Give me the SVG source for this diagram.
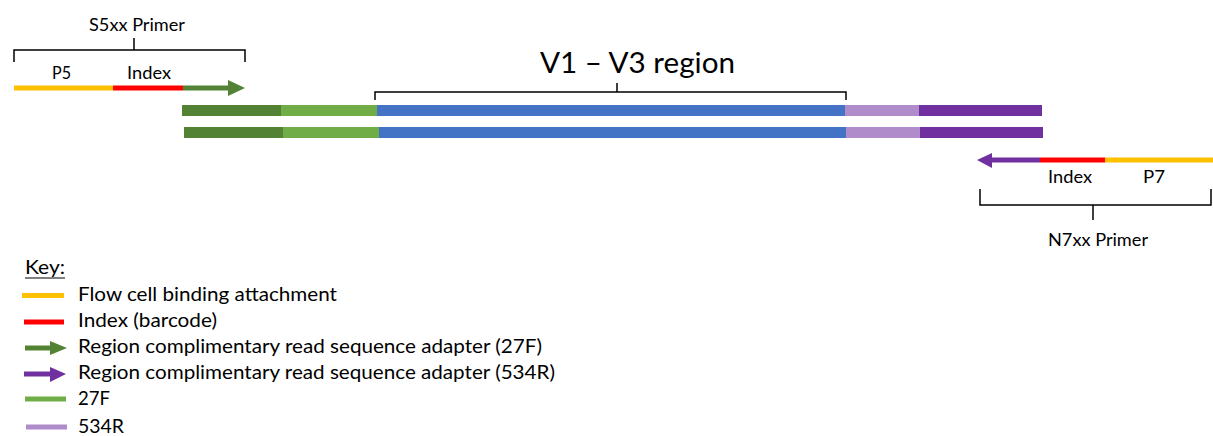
<svg xmlns="http://www.w3.org/2000/svg" width="1213" height="436" viewBox="0 0 1213 436">
<style>
text{font-family:Lato,"Open Sans","Liberation Sans",sans-serif;fill:#000}
.s{font-size:17px}
.l{font-size:19px}
.br{fill:none;stroke:#000;stroke-width:1.5}
.ln{stroke-width:5;fill:none}
.yel{stroke:#FFC000}.red{stroke:#FF0000}.dg{stroke:#548235}.pu{stroke:#7030A0}.lg{stroke:#70AD47}.lv{stroke:#B08CCB}
</style>
<rect width="1213" height="436" fill="#fff"/>
<g id="s5xx-primer">
<path class="br" d="M14,62V50H245V62M134,50V38"/>
<text class="s" x="89" y="31" textLength="96" lengthAdjust="spacingAndGlyphs">S5xx Primer</text>
<text class="s" x="52" y="79" textLength="19" lengthAdjust="spacingAndGlyphs">P5</text>
<text class="s" x="127" y="79" textLength="44" lengthAdjust="spacingAndGlyphs">Index</text>
<line class="ln yel" x1="14" y1="88" x2="113" y2="88"/>
<line class="ln red" x1="113" y1="88" x2="183" y2="88"/>
<line class="ln dg" x1="183" y1="88" x2="230" y2="88"/>
<polygon points="228,80 245,88 228,96" fill="#548235"/>
</g>
<g id="v1-v3-region">
<path class="br" d="M375,100V92H846V100M617,92V83"/>
<text x="540" y="73" font-size="28" textLength="195" lengthAdjust="spacingAndGlyphs">V1 – V3 region</text>
</g>
<g id="strand-top">
<rect x="182" y="105" width="99" height="11" fill="#548235"/>
<rect x="281" y="105" width="96" height="11" fill="#70AD47"/>
<rect x="377" y="105" width="468" height="11" fill="#4472C4"/>
<rect x="845" y="105" width="74" height="11" fill="#B08CCB"/>
<rect x="919" y="105" width="123" height="11" fill="#7030A0"/>
</g>
<g id="strand-bottom">
<rect x="184" y="127" width="99" height="11" fill="#548235"/>
<rect x="283" y="127" width="96" height="11" fill="#70AD47"/>
<rect x="379" y="127" width="467" height="11" fill="#4472C4"/>
<rect x="846" y="127" width="74" height="11" fill="#B08CCB"/>
<rect x="920" y="127" width="123" height="11" fill="#7030A0"/>
</g>
<g id="n7xx-primer">
<line class="ln pu" x1="990" y1="160" x2="1040" y2="160"/>
<polygon points="992,153 977,160 992,168" fill="#7030A0"/>
<line class="ln red" x1="1040" y1="160" x2="1105" y2="160"/>
<line class="ln yel" x1="1105" y1="160" x2="1213" y2="160"/>
<text class="s" x="1048" y="183" textLength="44" lengthAdjust="spacingAndGlyphs">Index</text>
<text class="s" x="1143" y="183" textLength="22" lengthAdjust="spacingAndGlyphs">P7</text>
<path class="br" d="M980,189V205H1211V189M1093,205V220"/>
<text class="s" x="1048" y="246" textLength="100" lengthAdjust="spacingAndGlyphs">N7xx Primer</text>
</g>
<g id="key">
<text class="l" x="25" y="274" textLength="40" lengthAdjust="spacingAndGlyphs">Key:</text>
<line x1="25" y1="278" x2="65" y2="278" stroke="#000" stroke-width="1.2"/>
<line class="ln yel" x1="22" y1="295.5" x2="64" y2="295.5"/>
<text class="l" x="78" y="301" textLength="259" lengthAdjust="spacingAndGlyphs">Flow cell binding attachment</text>
<line class="ln red" x1="24" y1="322" x2="64" y2="322"/>
<text class="l" x="78" y="327" textLength="139" lengthAdjust="spacingAndGlyphs">Index (barcode)</text>
<line class="ln dg" x1="25" y1="348" x2="52" y2="348"/>
<polygon points="50,341 67,348 50,355" fill="#548235"/>
<text class="l" x="78" y="353" textLength="464" lengthAdjust="spacingAndGlyphs">Region complimentary read sequence adapter (27F)</text>
<line class="ln pu" x1="24" y1="374" x2="52" y2="374"/>
<polygon points="50,367 66,374 50,382" fill="#7030A0"/>
<text class="l" x="78" y="379" textLength="477" lengthAdjust="spacingAndGlyphs">Region complimentary read sequence adapter (534R)</text>
<line class="ln lg" x1="25" y1="399" x2="66" y2="399"/>
<text class="l" x="78" y="405" textLength="32" lengthAdjust="spacingAndGlyphs">27F</text>
<line class="ln lv" x1="26" y1="427" x2="67" y2="427"/>
<text class="l" x="78" y="433" textLength="46" lengthAdjust="spacingAndGlyphs">534R</text>
</g>
</svg>
